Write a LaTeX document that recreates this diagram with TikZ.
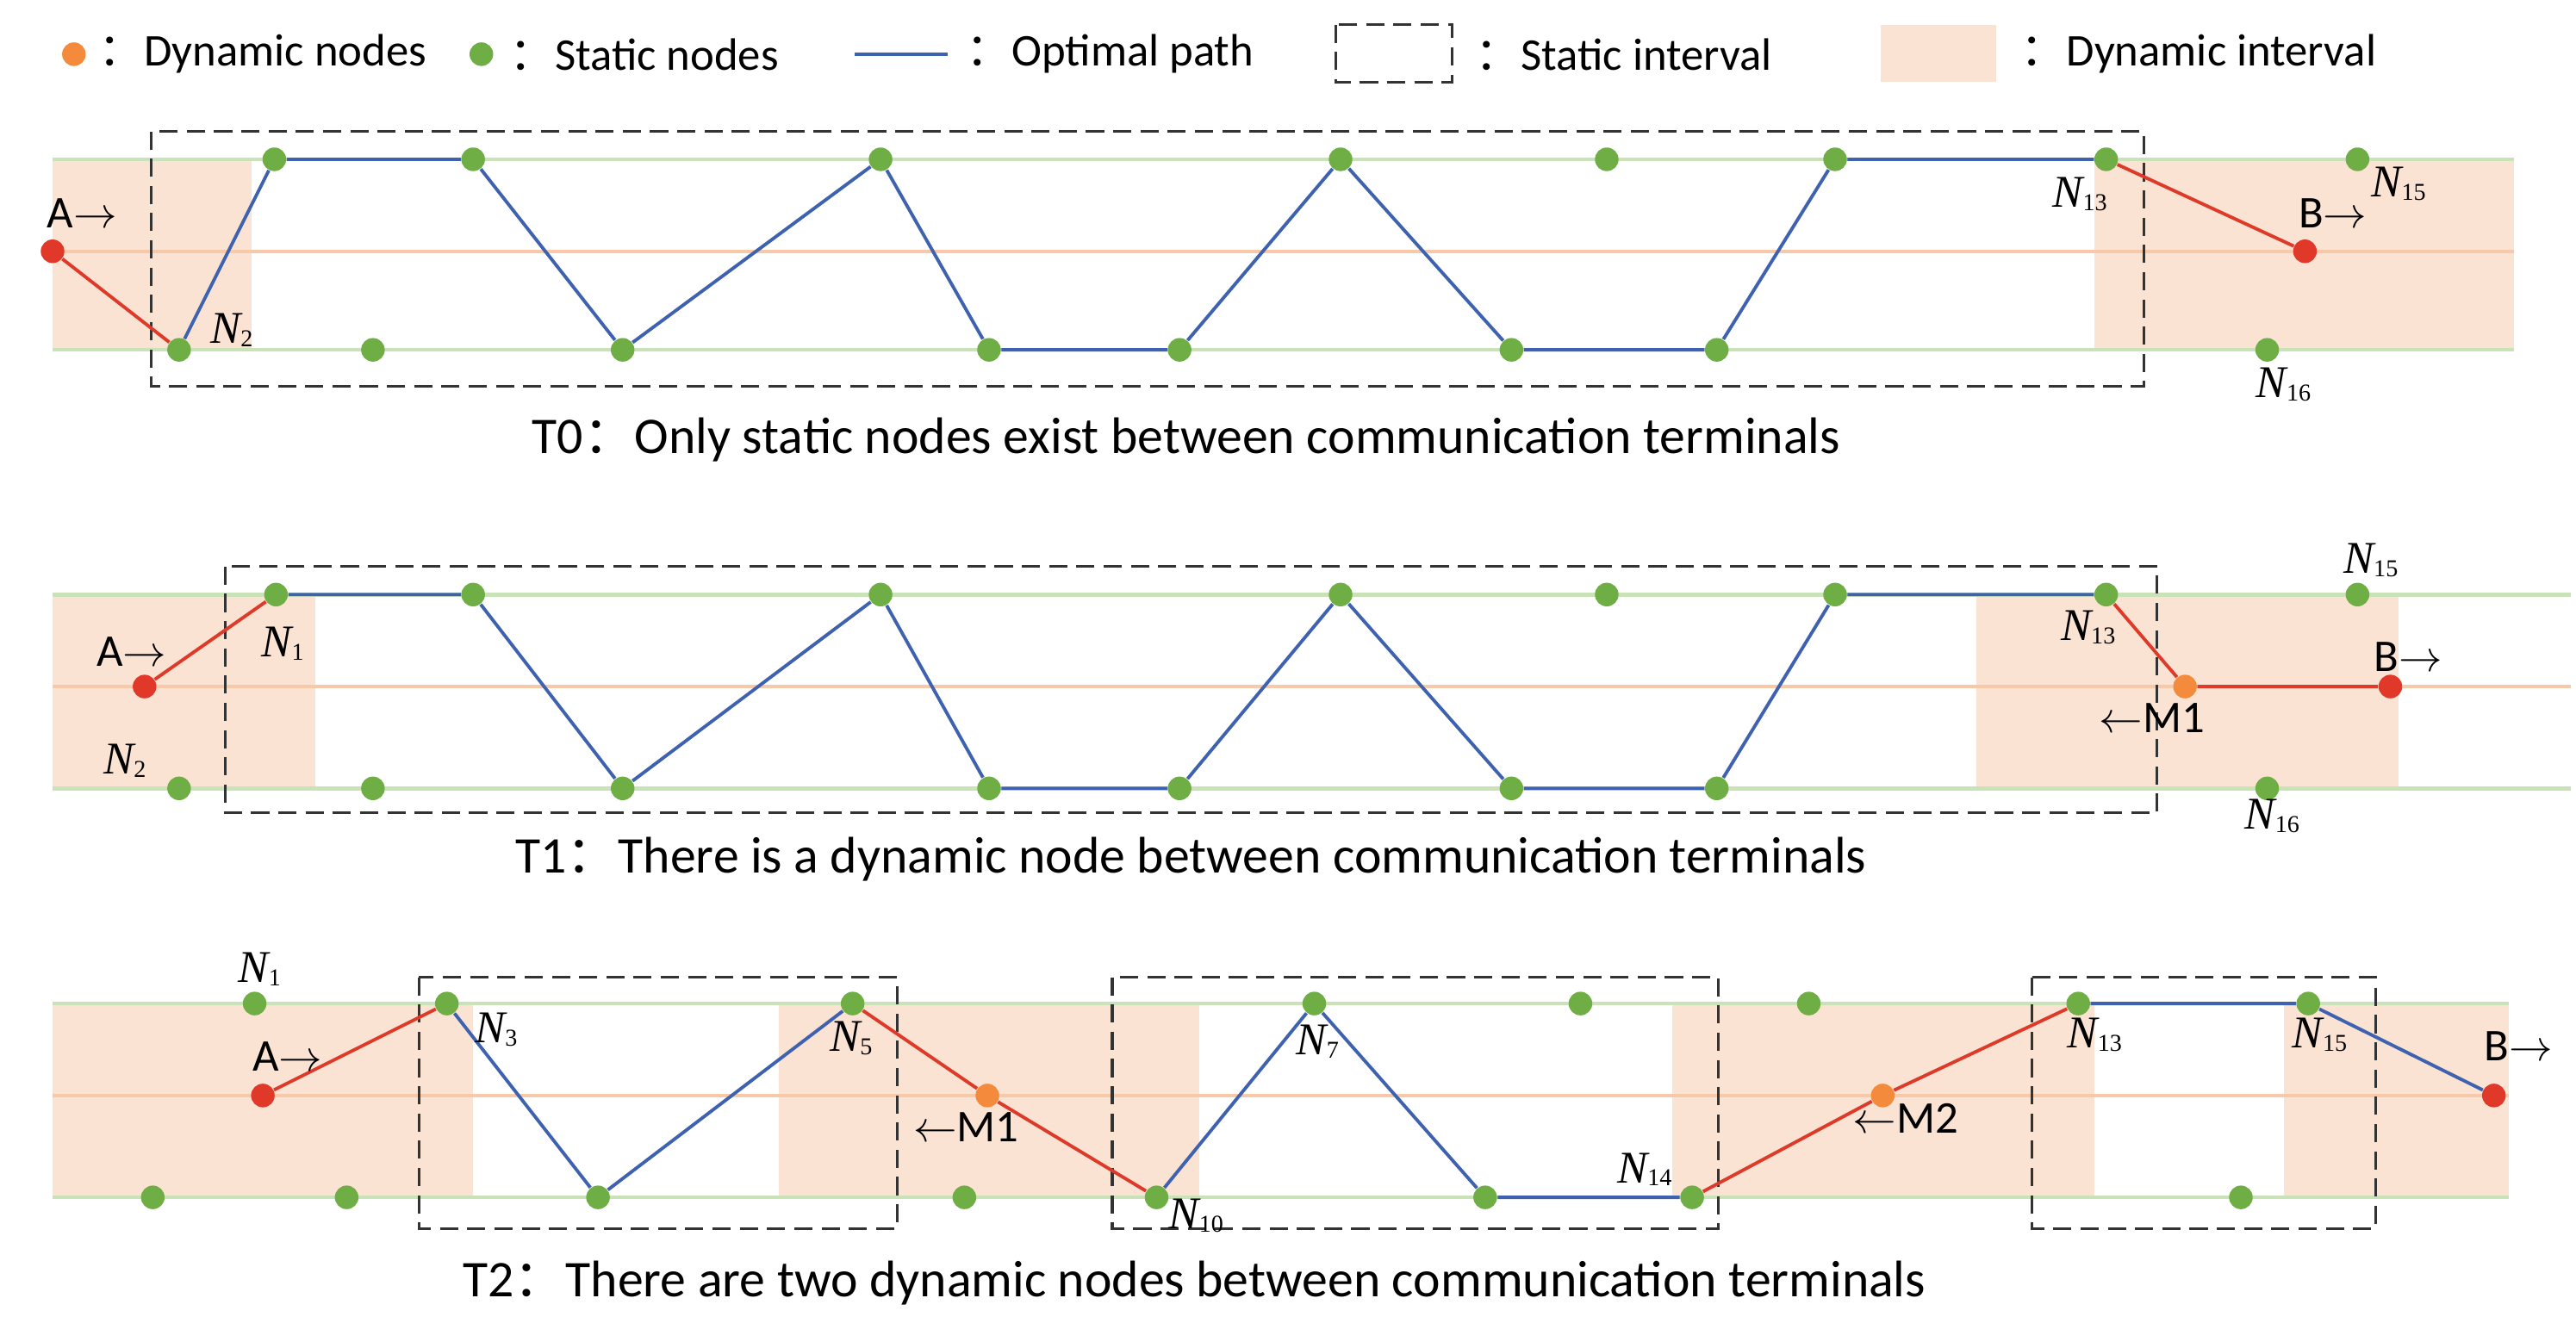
\documentclass[tikz,border=0pt]{standalone}
\usepackage{fontspec}
\setmainfont{Carlito}
\newfontfamily\cjk{Noto Sans CJK SC}
\newfontfamily\tms{Liberation Serif}
\definecolor{gdot}{HTML}{6FAD45}
\definecolor{gline}{HTML}{C9E2B8}
\definecolor{oline}{HTML}{F8C9A8}
\definecolor{peach}{HTML}{FBE3D3}
\definecolor{rdot}{HTML}{E0392A}
\definecolor{odot}{HTML}{F48A3C}
\definecolor{bpath}{HTML}{3F62B0}
\definecolor{rpath}{HTML}{DE3A2A}
\newcommand{\Nl}[1]{{\tms\itshape\fontsize{15}{15}\selectfont N}{\tms\fontsize{8}{8}\selectfont\raisebox{-0.3ex}{#1}}}
\newcommand{\cc}{{\cjk ：}}
\begin{document}
\begin{tikzpicture}[x=0.01907cm,y=-0.01907cm,
 gd/.style={circle,fill=gdot,inner sep=0pt,minimum size=7.8pt},
 rd/.style={circle,fill=rdot,inner sep=0pt,minimum size=7.8pt},
 od/.style={circle,fill=odot,inner sep=0pt,minimum size=7.8pt},
 bp/.style={bpath,line width=1.1pt},
 rp/.style={rpath,line width=1.1pt},
 gl/.style={gline,line width=1.3pt},
 ol/.style={oline,line width=1.1pt},
 db/.style={line width=0.9pt,dash pattern=on 6pt off 3pt,black!80},
 lb/.style={font=\fontsize{15}{15}\selectfont,inner sep=1pt},
 captxt/.style={font=\fontsize{17}{17}\selectfont},
 nl/.style={inner sep=0pt}]
\useasboundingbox (0,0) rectangle (1568,805);
% legend
\node[od] (l1) at (45,33) {};
\node[lb,anchor=west] (l1t) at (58,33) {\cc Dynamic nodes};
\node[gd] (l2) at (293,33) {};
\node[lb,anchor=west] (l2t) at (308,33) {\cc Static nodes};
\coordinate (l3a) at (520,33); \coordinate (l3b) at (577,33);
\draw[bp] (l3a) -- (l3b);
\node[lb,anchor=west] (l3t) at (586,33) {\cc Optimal path};
\draw[db] (813,15) rectangle (884,50);
\node[lb,anchor=west] (l4t) at (896,33) {\cc Static interval};
\fill[peach] (1145,15) rectangle (1215,50);
\node[lb,anchor=west] (l5t) at (1228,33) {\cc Dynamic interval};

% ===== T0 =====
\fill[peach] (32,97) rectangle (153,213);
\fill[peach] (1275,97) rectangle (1530,213);
\draw[gl] (32,97) -- (1530,97); \draw[gl] (32,213) -- (1530,213);
\draw[ol] (32,153) -- (1530,153);
\draw[db] (92,80) rectangle (1305,235);
\foreach \n/\x in {a1/167,a2/288,a3/536,a4/816,a5/978,a6/1117,a7/1282,a8/1435} \node[gd] (\n) at (\x,97) {};
\foreach \n/\x in {b1/109,b2/227,b3/379,b4/602,b5/718,b6/920,b7/1045,b8/1380} \node[gd] (\n) at (\x,213) {};
\node[rd] (A0) at (32,153) {}; \node[rd] (B0) at (1403,153) {};
\draw[rp] (A0) -- (b1);
\draw[bp] (b1) -- (a1) -- (a2) -- (b3) -- (a3) -- (b4) -- (b5) -- (a4) -- (b6) -- (b7) -- (a6) -- (a7);
\draw[rp] (a7) -- (B0);
\node[lb] (tA0) at (50,130) {A$\rightarrow$};
\node[nl] (tN2) at (141,201) {\Nl{2}};
\node[nl] (tN13) at (1266,118) {\Nl{13}};
\node[lb] (tB0) at (1420,130) {B$\rightarrow$};
\node[nl] (tN15) at (1460,112) {\Nl{15}};
\node[nl] (tN16) at (1390,234) {\Nl{16}};
\node[captxt] (c0) at (722,268) {T0\cc Only static nodes exist between communication terminals};

% ===== T1 =====
\fill[peach] (32,362) rectangle (192,480);
\fill[peach] (1203,362) rectangle (1460,480);
\draw[gl] (32,362) -- (1565,362); \draw[gl] (32,480) -- (1565,480);
\draw[ol] (32,418) -- (1565,418);
\draw[db] (137,345) rectangle (1313,495);
\foreach \n/\x in {c1/168,c2/288,c3/536,c4/816,c5/978,c6/1117,c7/1282,c8/1435} \node[gd] (\n) at (\x,362) {};
\foreach \n/\x in {d1/109,d2/227,d3/379,d4/602,d5/718,d6/920,d7/1045,d8/1380} \node[gd] (\n) at (\x,480) {};
\node[rd] (A1) at (88,418) {}; \node[rd] (B1) at (1455,418) {};
\node[od] (M11) at (1330,418) {};
\draw[rp] (A1) -- (c1);
\draw[bp] (c1) -- (c2) -- (d3) -- (c3) -- (d4) -- (d5) -- (c4) -- (d6) -- (d7) -- (c6) -- (c7);
\draw[rp] (c7) -- (M11) -- (B1);
\node[lb] (tA1) at (80,397) {A$\rightarrow$};
\node[nl] (tN1a) at (172,392) {\Nl{1}};
\node[nl] (tN2b) at (76,463) {\Nl{2}};
\node[nl] (tN13b) at (1271,382) {\Nl{13}};
\node[nl] (tN15b) at (1443,341) {\Nl{15}};
\node[lb] (tB1) at (1466,400) {B$\rightarrow$};
\node[lb] (tM1) at (1310,437) {$\leftarrow$M1};
\node[nl] (tN16b) at (1383,497) {\Nl{16}};
\node[captxt] (c1t) at (725,523) {T1\cc There is a dynamic node between communication terminals};

% ===== T2 =====
\fill[peach] (32,611) rectangle (288,729);
\fill[peach] (474,611) rectangle (730,729);
\fill[peach] (1018,611) rectangle (1275,729);
\fill[peach] (1390,611) rectangle (1527,729);
\draw[gl] (32,611) -- (1527,611); \draw[gl] (32,729) -- (1527,729);
\draw[ol] (32,667) -- (1527,667);
\draw[db] (255,595) rectangle (546,748);
\draw[db] (677,595) rectangle (1046,748);
\draw[db] (1237,595) rectangle (1446,748);
\foreach \n/\x in {e1/155,e2/272,e3/519,e4/800,e5/962,e6/1101,e7/1265,e8/1405} \node[gd] (\n) at (\x,611) {};
\foreach \n/\x in {f1/93,f2/211,f3/364,f4/587,f5/704,f6/904,f7/1030,f8/1364} \node[gd] (\n) at (\x,729) {};
\node[rd] (A2) at (160,667) {}; \node[rd] (B2) at (1518,667) {};
\node[od] (M12) at (601,667) {}; \node[od] (M22) at (1146,667) {};
\draw[rp] (A2) -- (e2);
\draw[bp] (e2) -- (f3) -- (e3);
\draw[rp] (e3) -- (M12) -- (f5);
\draw[bp] (f5) -- (e4) -- (f6) -- (f7);
\draw[rp] (f7) -- (M22) -- (e7);
\draw[bp] (e7) -- (e8) -- (B2);
\node[nl] (tN1c) at (158,590) {\Nl{1}};
\node[lb] (tA2) at (175,643) {A$\rightarrow$};
\node[nl] (tN3) at (302,627) {\Nl{3}};
\node[nl] (tN5) at (518,632) {\Nl{5}};
\node[lb] (tM12) at (588,686) {$\leftarrow$M1};
\node[nl] (tN7) at (802,634) {\Nl{7}};
\node[nl] (tN10) at (728,740) {\Nl{10}};
\node[nl] (tN14) at (1001,712) {\Nl{14}};
\node[lb] (tM22) at (1160,681) {$\leftarrow$M2};
\node[nl] (tN13c) at (1275,630) {\Nl{13}};
\node[nl] (tN15c) at (1412,630) {\Nl{15}};
\node[lb] (tB2) at (1533,637) {B$\rightarrow$};
\node[captxt] (c2t) at (727,781) {T2\cc There are two dynamic nodes between communication terminals};
\end{tikzpicture}
\end{document}
